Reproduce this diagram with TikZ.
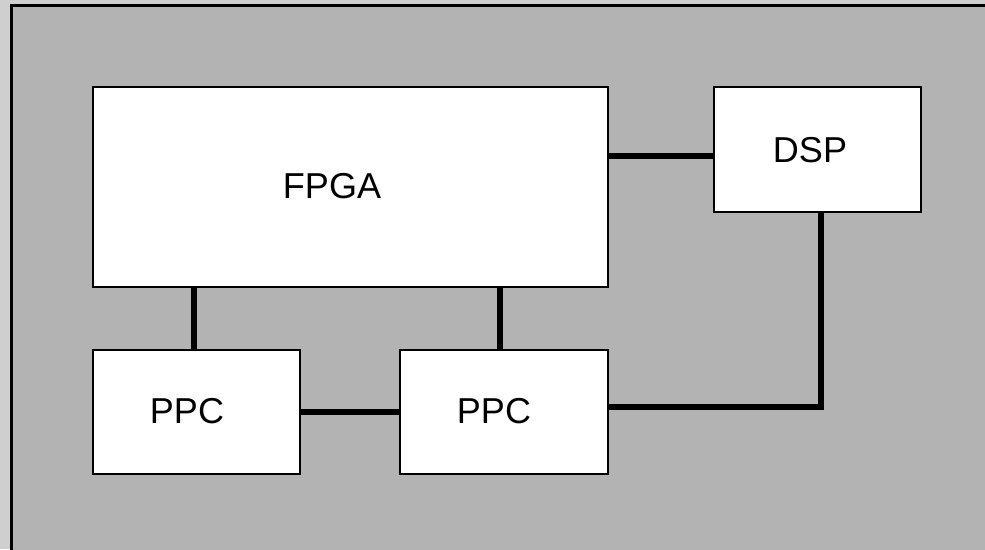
\documentclass[tikz,border=0pt]{standalone}
\usepackage{fontspec}
\setmainfont{Liberation Sans}
\definecolor{panelgray}{HTML}{B3B3B3}
\definecolor{outergray}{HTML}{CFCFCF}
\usetikzlibrary{positioning,calc}

\begin{document}
\begin{tikzpicture}[
x=0.02cm, y=-0.02cm,
box/.style={rectangle, draw, fill=white, line width=1pt, inner sep=0pt},
lbl/.style={font=\fontsize{20.5}{24}\selectfont, inner sep=0pt},
wire/.style={line width=3.4pt, line cap=rect}
]
\useasboundingbox (0,0) rectangle (985,549);
\clip (0,0) rectangle (985,549);
\fill[outergray] (0,0) rectangle (985,549);
\draw[fill=panelgray, line width=1.2pt] (11.5,5.5) rectangle (1010,580);

% blocks
\node (fpga) [box, minimum width=10.3cm, minimum height=4cm] at (350.5,187) {};
\node (dsp) [box, minimum width=4.14cm, minimum height=2.5cm] at (817.5,149.5) {};
\node (ppca) [box, minimum width=4.14cm, minimum height=2.48cm] at (196.5,412) {};
\node (ppcb) [box, minimum width=4.16cm, minimum height=2.48cm] at (504,412) {};

\node (fpgatxt) [lbl] at (332,186) {FPGA};
\node (dsptxt) [lbl] at (810,150) {DSP};
\node (ppcatxt) [lbl] at (187,411.5) {PPC};
\node (ppcbtxt) [lbl] at (494,411.5) {PPC};

% links
\draw [wire, line cap=butt] (fpga.east |- 0,156) -- (dsp.west |- 0,156);
\draw [wire, line cap=butt] (fpga.south -| 194,0) -- (ppca.north -| 194,0);
\draw [wire, line cap=butt] (fpga.south -| 500,0) -- (ppcb.north -| 500,0);
\draw [wire, line cap=butt] (ppca.east) -- (ppcb.east -| ppcb.west);
\draw [wire, line cap=butt] (dsp.south -| 821,0) -- (821,407) -- (ppcb.east |- 0,407);
\end{tikzpicture}
\end{document}
